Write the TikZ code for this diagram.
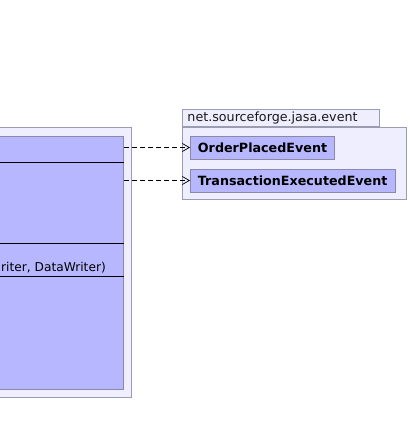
\documentclass[tikz,border=0pt]{standalone}
\usepackage{fontspec}
\setmainfont{DejaVu Sans}
\usetikzlibrary{arrows.meta}
\definecolor{classfill}{HTML}{B7B7FF}
\definecolor{pkgfill}{HTML}{EEEEFF}
\definecolor{pkgdraw}{HTML}{9C9CB0}
\definecolor{classdraw}{HTML}{8A8AA8}
\tikzset{
  pkgbody/.style={fill=pkgfill, draw=pkgdraw, line width=0.9pt, inner sep=0pt},
  pkgtab/.style={fill=pkgfill, draw=pkgdraw, line width=0.9pt, inner sep=0pt, anchor=south west, font=\fontsize{12.7}{14}\selectfont, text=black!90},
  classbox/.style={fill=classfill, draw=classdraw, line width=0.9pt, inner sep=0pt},
  eventbox/.style={fill=classfill, draw=classdraw, line width=0.9pt, anchor=west, font=\fontsize{12.7}{14}\selectfont\bfseries, inner xsep=7.5pt, minimum height=23pt},
  depend/.style={dash pattern=on 5pt off 3pt, line width=0.7pt, -{Straight Barb[length=7pt,width=8pt]}}
}
\begin{document}
\begin{tikzpicture}[x=1pt, y=-1pt]
    \useasboundingbox (0,0) rectangle (409,435);
    \clip (0,0) rectangle (409,435);

    % Package holding the agent class (cut off at the left)
    \node[pkgbody, minimum width=240pt, minimum height=270pt, anchor=north east] (agentpkg) at (132,127) {};
    \node[classbox, minimum width=230pt, minimum height=253pt, anchor=north east] (agent) at (124,136) {};
    \draw (agent.west |- 0,162) -- (agent.east |- 0,162);
    \draw (agent.west |- 0,243) -- (agent.east |- 0,243);
    \draw (agent.west |- 0,276) -- (agent.east |- 0,276);
    \node[anchor=west, font=\fontsize{12.2}{14}\selectfont, inner sep=0pt] (opsig) at (1,268) {riter, DataWriter)};

    % Package net.sourceforge.jasa.event
    \node[pkgtab, minimum width=197pt, minimum height=17pt, text width=187pt, inner xsep=5pt, align=left] (evtab) at (182,127) {net.sourceforge.jasa.event};
    \node[pkgbody, minimum width=224pt, minimum height=72pt, anchor=north west] (evpkg) at (182,127) {};

    \node[eventbox] (placed) at (190,147.5) {OrderPlacedEvent};
    \node[eventbox] (executed) at (190,180.5) {TransactionExecutedEvent};

    % Dependencies
    \draw[depend] (placed.west -| agent.east) -- (placed.west);
    \draw[depend] (executed.west -| agent.east) -- (executed.west);
\end{tikzpicture}
\end{document}
